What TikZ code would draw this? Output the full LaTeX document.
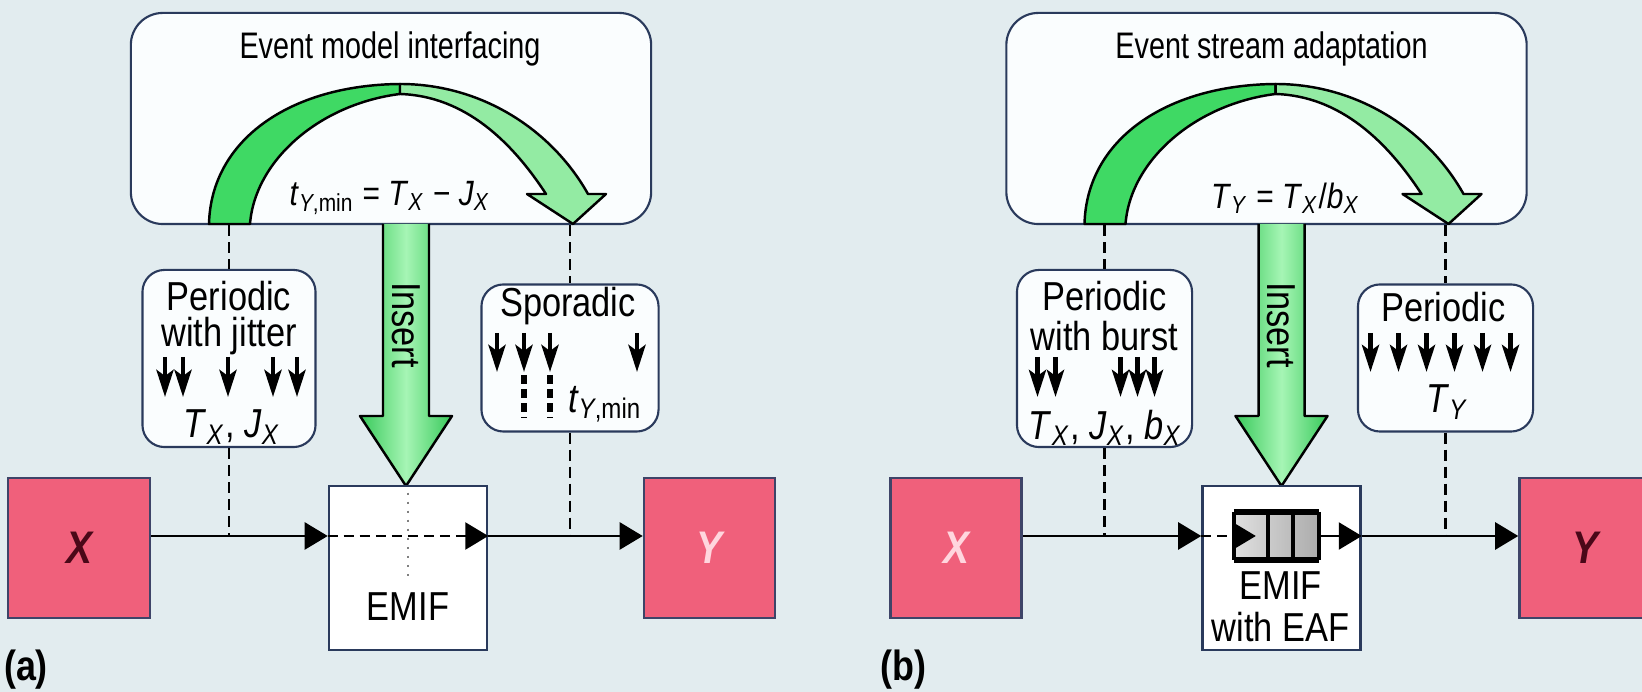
\documentclass[tikz,border=0pt]{standalone}
\usepackage{fontspec}
\setmainfont[FakeStretch=0.85]{Liberation Sans}
\newfontfamily\narrowfont[FakeStretch=0.78]{Liberation Sans}
\usetikzlibrary{arrows.meta,calc}
\definecolor{bg}{HTML}{E2ECEF}
\definecolor{navy}{HTML}{2A3A5C}
\definecolor{boxfill}{HTML}{FAFDFE}
\definecolor{redfill}{HTML}{F0607B}
\definecolor{redline}{HTML}{3E4468}
\definecolor{gdark}{HTML}{3FD964}
\definecolor{glight}{HTML}{93EBA3}
\definecolor{gedge}{HTML}{38C95A}
\definecolor{gmid}{HTML}{A6F5B5}
\definecolor{darkred}{HTML}{4A0818}
\definecolor{lightpink}{HTML}{FFD6DE}
\newcommand{\sv}[2]{\textit{#1}\textsubscript{\textit{#2}}}
\begin{document}
\begin{tikzpicture}[x=0.01cm, y=-0.01cm,
  panel/.style={draw=navy, line width=0.6pt, fill=boxfill, rounded corners=0.32cm, inner sep=0pt, minimum width=5.2cm, minimum height=2.11cm},
  smallbox/.style={draw=navy, line width=0.6pt, fill=boxfill, rounded corners=0.22cm, inner sep=0pt},
  redbox/.style={draw=redline, line width=0.7pt, fill=redfill, inner sep=0pt, minimum height=1.40cm, font=\fontsize{13}{14}\selectfont\bfseries\itshape},
  emif/.style={draw=navy, line width=0.7pt, fill=white, inner sep=0pt, minimum width=1.58cm, minimum height=1.64cm},
  txt/.style={inner sep=0pt, font=\fontsize{10}{12}\selectfont},
  btxt/.style={inner sep=0pt, font=\fontsize{11.5}{13}\selectfont},
  ttl/.style={inner sep=0pt, font=\narrowfont\fontsize{10.5}{12}\selectfont},
  flow/.style={line width=0.7pt, -{Triangle[length=0.23cm, width=0.27cm]}},
  guide/.style={line width=0.6pt, dash pattern=on 0.11cm off 0.06cm},
  evt/.style={line width=1.3pt, -{Stealth[length=0.27cm, width=0.17cm, inset=0.06cm]}},
  evtdash/.style={line width=1.6pt, dash pattern=on 0.09cm off 0.05cm},
  arcdark/.style={fill=gdark, draw=black, line width=0.7pt, line join=round},
  arclight/.style={fill=glight, draw=black, line width=0.7pt, line join=round},
  insertarrow/.style={left color=gedge, right color=gedge, middle color=gmid, draw=black, line width=0.7pt, line join=round},
  tag/.style={inner sep=0pt, font=\fontsize{12}{14}\selectfont\bfseries}
]
\useasboundingbox (0,0) rectangle (1642,692);
\fill[bg] (0,0) rectangle (1642,692);

% ================= panel (a) =================
\node[panel] (topA) at (391,118.5) {};
\node[ttl] (titleA) at (390,49) {Event model interfacing};
\path[arcdark] (209,224) .. controls (211,140) and (290,85) .. (400,84) -- (400,94)
   .. controls (320,104) and (255,160) .. (250,224) -- cycle;
\path[arclight] (400,84) .. controls (482,84) and (552,130) .. (588,194) -- (606,194) -- (573,224)
   -- (527,194) -- (546,194) .. controls (512,142) and (465,96) .. (400,94) -- cycle;
\node[txt] (fA) at (390,198) {\textit{t}\textsubscript{\textit{Y},min} = \sv{T}{X} − \sv{J}{X}};
\draw[insertarrow] (383,224) -- (383,416) -- (360,416) -- (406,486) -- (452,416) -- (429,416) -- (429,224);
\node[btxt, rotate=-90] (insA) at (406,325) {Insert};

\node[smallbox, minimum width=1.73cm, minimum height=1.77cm] (boxJ) at (229,358.5) {};
\node[btxt] at (229,296) {Periodic};
\node[btxt] at (229,336) {with jitter};
\foreach \x in {165,183,228,273,297} \draw[evt] (\x,357) -- (\x,397);
\node[btxt] at (232,427) {\sv{T}{X}, \sv{J}{X}};

\node[smallbox, minimum width=1.77cm, minimum height=1.47cm] (boxS) at (570,358) {};
\node[btxt] at (568,306) {Sporadic};
\foreach \x in {497,524,550,637} \draw[evt] (\x,333) -- (\x,372);
\foreach \x in {524,550} \draw[evtdash] (\x,375) -- (\x,418);
\node[btxt] at (605,404) {\textit{t}\textsubscript{\textit{Y},min}};

\coordinate (la) at (0,536);
\draw[guide] (topA.south -| boxJ.north) -- (boxJ.north);
\draw[guide] (boxJ.south) -- (boxJ.south |- la);
\draw[guide] (topA.south -| boxS.north) -- (boxS.north);
\draw[guide] (boxS.south) -- (boxS.south |- la);

\node[redbox, minimum width=1.42cm, text=darkred] (XA) at (79,548) {X};
\node[emif] (EA) at (408,568) {};
\draw[gray, line width=0.6pt, dash pattern=on 0.02cm off 0.07cm] ([yshift=-0.08cm]EA.north) -- ([yshift=-0.12cm]EA.center);
\node[btxt] at (408,607) {EMIF};
\node[redbox, minimum width=1.31cm, text=lightpink] (YA) at (709.5,548) {Y};
\draw[flow] (XA.east |- la) -- (EA.west |- la);
\draw[flow, dash pattern=on 0.1cm off 0.06cm] (EA.west |- la) -- (EA.east |- la);
\draw[flow] (EA.east |- la) -- (YA.west |- la);
\node[tag] (ta) at (26,670) {(a)};

% ================= panel (b) =================
\begin{scope}[xshift=8.75cm]
\node[panel] (topB) at (391,118.5) {};
\node[ttl] (titleB) at (396,49) {Event stream adaptation};
\path[arcdark] (209,224) .. controls (211,140) and (290,85) .. (400,84) -- (400,94)
   .. controls (320,104) and (255,160) .. (250,224) -- cycle;
\path[arclight] (400,84) .. controls (482,84) and (552,130) .. (588,194) -- (606,194) -- (573,224)
   -- (527,194) -- (546,194) .. controls (512,142) and (465,96) .. (400,94) -- cycle;
\node[txt] (fB) at (410,198) {\sv{T}{Y} = \sv{T}{X}/\sv{b}{X}};
\draw[insertarrow] (383,224) -- (383,416) -- (360,416) -- (406,486) -- (452,416) -- (429,416) -- (429,224);
\node[btxt, rotate=-90] (insB) at (406,325) {Insert};

\node[smallbox, minimum width=1.75cm, minimum height=1.77cm] (boxB) at (229,358.5) {};
\node[btxt] at (229,296) {Periodic};
\node[btxt] at (229,336) {with burst};
\foreach \x in {162,180,245,262,279} \draw[evt] (\x,357) -- (\x,397);
\node[btxt] at (230,428) {\sv{T}{X}, \sv{J}{X}, \sv{b}{X}};

\node[smallbox, minimum width=1.75cm, minimum height=1.47cm] (boxP) at (570,358) {};
\node[btxt] at (568,307) {Periodic};
\foreach \x in {495,523,551,579,607,635} \draw[evt] (\x,333) -- (\x,372);
\node[btxt] at (572,402) {\sv{T}{Y}};

\coordinate (lb) at (0,536);
\draw[guide] (topB.south -| boxB.north) -- (boxB.north);
\draw[guide] (boxB.south) -- (boxB.south |- lb);
\draw[guide] (topB.south -| boxP.north) -- (boxP.north);
\draw[guide] (boxP.south) -- (boxP.south |- lb);

\node[redbox, minimum width=1.31cm, text=lightpink] (XB) at (80.5,548) {X};
\node[emif] (EB) at (406,568) {};
\node[inner sep=0pt, minimum width=0.84cm, minimum height=0.47cm, left color=gray!25, right color=gray!65] (Q) at (401,536) {};
\draw[line width=1.8pt] (Q.north west) -- (Q.north east);
\draw[line width=1.8pt] (Q.south west) -- (Q.south east);
\draw[line width=1.2pt] (Q.north west) -- (Q.south west);
\draw[line width=1.2pt] (Q.north east) -- (Q.south east);
\draw[line width=1.2pt] ($(Q.north west)!0.4!(Q.north east)$) -- ($(Q.south west)!0.4!(Q.south east)$);
\draw[line width=1.2pt] ($(Q.north west)!0.69!(Q.north east)$) -- ($(Q.south west)!0.69!(Q.south east)$);
\node[btxt] at (405,586) {EMIF};
\node[btxt] at (405,627) {with EAF};
\node[redbox, minimum width=1.31cm, text=darkred] (YB) at (709.5,548) {Y};
\draw[flow] (XB.east |- lb) -- (EB.west |- lb);
\draw[line width=0.7pt, dash pattern=on 0.1cm off 0.06cm] (EB.west |- lb) -- (Q.west);
\draw[flow] (Q.west) -- ([xshift=0.22cm]Q.west);
\draw[flow] (Q.east) -- (EB.east |- lb);
\draw[flow] (EB.east |- lb) -- (YB.west |- lb);
\node[tag] (tb) at (28,670) {(b)};
\end{scope}
\end{tikzpicture}
\end{document}
